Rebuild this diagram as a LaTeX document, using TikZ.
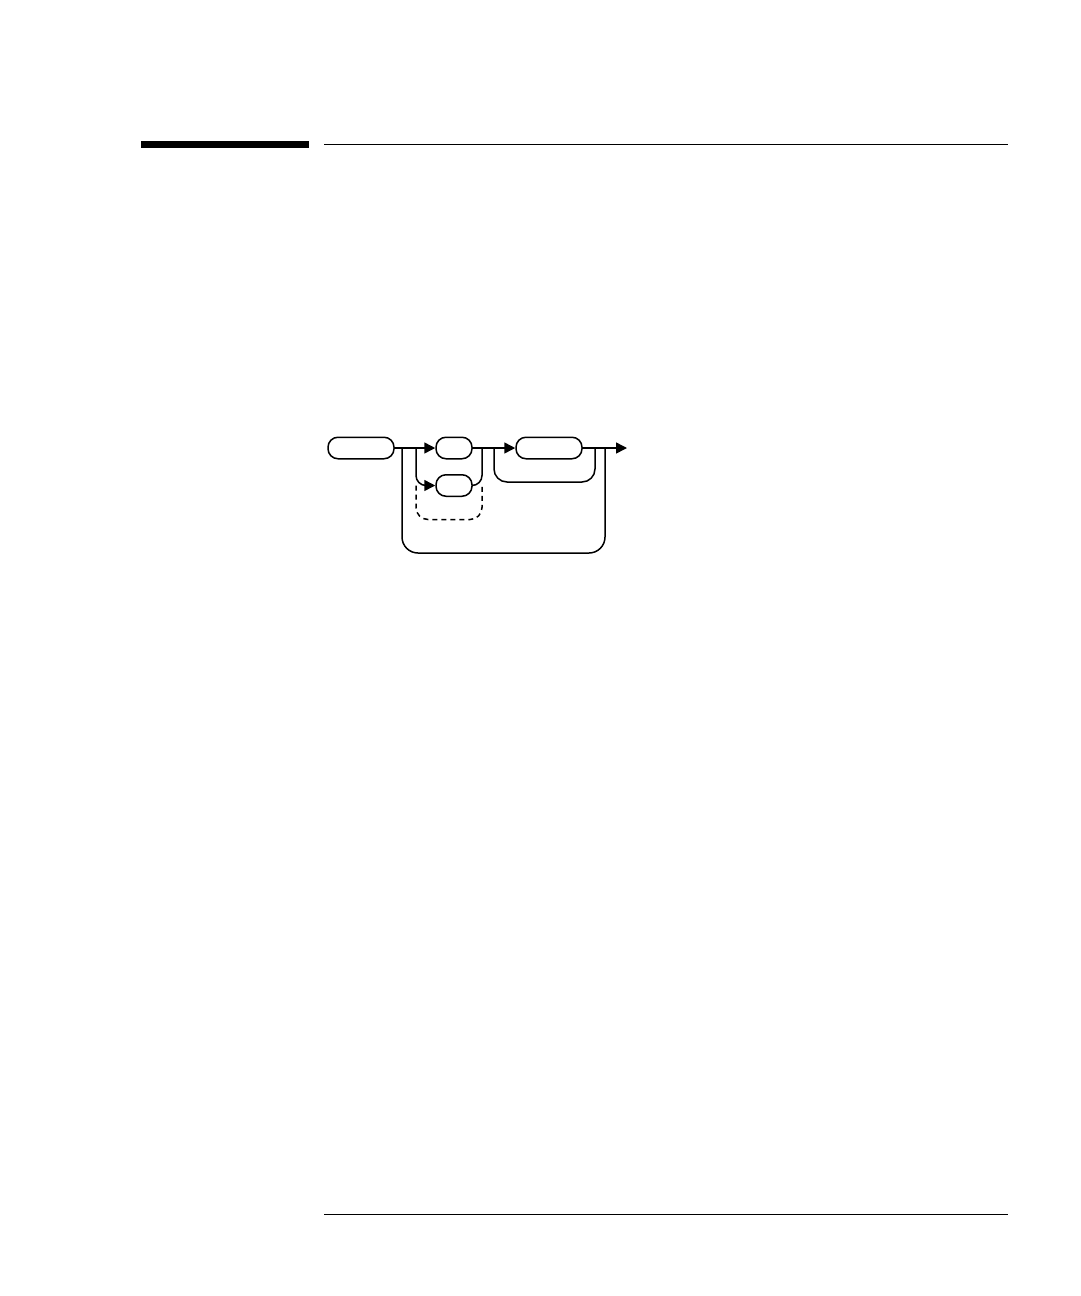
\documentclass[tikz,border=0pt]{standalone}
\usetikzlibrary{arrows.meta}
\begin{document}
\begin{tikzpicture}[x=1pt,y=-1pt,
  ln/.style={line width=1.5pt, black},
  rule/.style={line width=1.3pt, black},
  term/.style={draw, ln, rounded corners=10pt, minimum height=21.5pt, inner sep=0pt},
  arr/.style={ln, -{Triangle[length=11pt,width=11pt]}},
  dsh/.style={ln, dash pattern=on 5pt off 4pt}]
\useasboundingbox (0,0) rectangle (1080,1296);
% page rules
\fill[black] (141,141) rectangle (309,147.5);
\coordinate (r1a) at (324,144.3);
\coordinate (r1b) at (1008,144.3);
\draw[rule] (r1a) -- (r1b);
\coordinate (r2a) at (324,1214.3);
\coordinate (r2b) at (1008,1214.3);
\draw[rule] (r2a) -- (r2b);
% nodes
\node[term, minimum width=66pt] (A) at (361,448) {};
\node[term, minimum width=36pt] (B) at (454,448) {};
\node[term, minimum width=36pt] (C) at (454,485.5) {};
\node[term, minimum width=66pt] (D) at (549,448) {};
% junctions
\coordinate (j1) at (402,448);
\coordinate (j2) at (416,448);
\coordinate (j3) at (482,448);
\coordinate (j4) at (494,448);
\coordinate (j4b) at (595,448);
\coordinate (j5) at (605,448);
\coordinate (out) at (627,448);
\coordinate (l1) at (494,482);
\coordinate (l2) at (595,482);
\coordinate (o1) at (402,553);
\coordinate (o2) at (605,553);
\coordinate (d0) at (416,485.5);
\coordinate (d1) at (416,519.5);
\coordinate (d2) at (482,519.5);
\coordinate (d3) at (482,485.5);
% main line
\draw[arr] (A.east) -- (B.west);
\draw[arr] (B.east) -- (D.west);
\draw[arr] (D.east) -- (out);
% branch to C
\draw[arr, rounded corners=10pt] (j2) |- (C.west);
\draw[ln, rounded corners=10pt] (C.east) -| (j3);
% dashed empty path
\draw[dsh, rounded corners=12pt] (d0) -- (d1) -- (d2) -- (d3);
% repeat loop around D
\draw[ln, rounded corners=13pt] (j4) -- (l1) -- (l2) -- (j4b);
% outer bypass
\draw[ln, rounded corners=16pt] (j1) -- (o1) -- (o2) -- (j5);
\end{tikzpicture}
\end{document}
